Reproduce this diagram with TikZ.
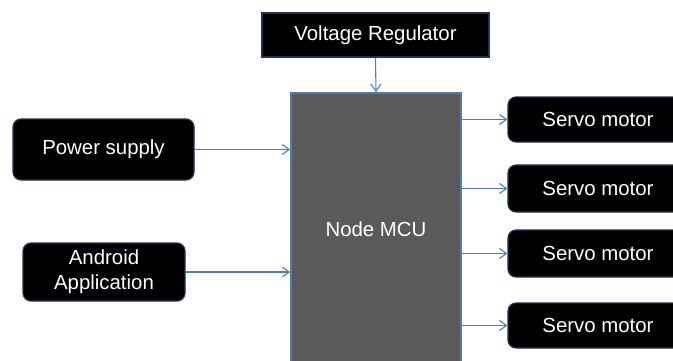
\documentclass[tikz,border=0pt]{standalone}
\usepackage{fontspec}
\setmainfont{Liberation Sans}
\usetikzlibrary{arrows.meta}
\definecolor{edgeblue}{HTML}{4F7FB0}
\definecolor{boxedge}{HTML}{1F3550}
\definecolor{mcugray}{HTML}{5A5A5A}
\begin{document}
\begin{tikzpicture}[x=.5pt,y=-.5pt,font=\fontsize{10.2}{12.5}\selectfont,
  blackbox/.style={fill=black,draw=boxedge,line width=.6pt,text=white,inner sep=0pt,align=center},
  roundbox/.style={blackbox,rounded corners=4pt},
  link/.style={draw=edgeblue,line width=.55pt,-{Straight Barb[length=3.5pt,width=5pt]}}]
\useasboundingbox (0,0) rectangle (673,360);
\clip (0,0) rectangle (673,360);
\fill[white] (0,0) rectangle (673,360);
% top and centre blocks
\node[blackbox,minimum width=113.5pt,minimum height=22pt] (vreg) at (375.5,35) {Voltage Regulator};
\node[fill=mcugray,draw=edgeblue,line width=.9pt,text=white,minimum width=85pt,minimum height=136pt] (mcu) at (376,229) {Node MCU};
% inputs
\node[roundbox,minimum width=90.5pt,minimum height=30.5pt] (power) at (103.5,149.5) {Power supply};
\node[roundbox,minimum width=81pt,minimum height=29pt] (android) at (104,272) {Android\\Application};
% outputs
\node[roundbox,minimum width=90pt,minimum height=22.5pt] (servoA) at (598,119.5) {Servo motor};
\node[roundbox,minimum width=90pt,minimum height=23.5pt] (servoB) at (598,188.5) {Servo motor};
\node[roundbox,minimum width=90pt,minimum height=23.5pt] (servoC) at (598,253.5) {Servo motor};
\node[roundbox,minimum width=90pt,minimum height=22.5pt] (servoD) at (598,325.5) {Servo motor};
% connectors
\draw[link] (vreg.south) -- (mcu.north);
\draw[link] (power.east) -- (power.east -| mcu.west);
\draw[link] (android.east) -- (android.east -| mcu.west);
\foreach \s in {servoA,servoB,servoC,servoD}
  \draw[link] (mcu.east |- \s.west) -- (\s.west);
\end{tikzpicture}
\end{document}
